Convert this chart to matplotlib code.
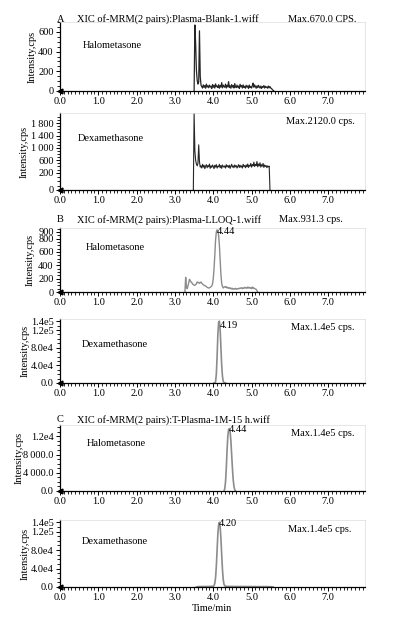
import numpy as np
import matplotlib
matplotlib.use("Agg")
import matplotlib.pyplot as plt
from matplotlib.ticker import FixedLocator, MultipleLocator

plt.rcParams["font.family"] = ["Liberation Serif", "DejaVu Serif"]
plt.rcParams["font.size"] = 7.5

FIG_W, FIG_H = 396, 620
STEP = 0.02  # sampling interval of the noisy traces, min
TS = "\u2009"  # thin space used as thousands separator in the original

# ---- A: blank plasma (noisy traces, one value every 0.02 min) ----
blank_halo_start = 3.50
blank_halo = [0, 670, 480, 210, 110, 70, 90, 610, 150, 60,
              45, 30, 62, 38, 55, 28, 70, 40, 52, 33,
              60, 42, 48, 25, 66, 38, 58, 30, 72, 44,
              50, 35, 64, 28, 55, 40, 85, 32, 60, 45,
              38, 70, 30, 58, 42, 95, 36, 52, 28, 65,
              40, 55, 30, 75, 45, 34, 60, 38, 50, 26,
              68, 42, 55, 30, 62, 36, 48, 28, 58, 40,
              52, 25, 60, 35, 46, 30, 55, 80, 38, 62,
              45, 28, 52, 34, 58, 40, 30, 50, 26, 45,
              38, 55, 30, 48, 35, 42, 28, 50, 32, 45,
              30, 25, 15, 8, 0]

blank_dexa_start = 3.48
blank_dexa = [0, 2120, 900, 600, 480, 420, 500, 1100, 550, 380,
              420, 350, 470, 380, 440, 330, 410, 460, 360, 430,
              390, 480, 340, 420, 370, 450, 400, 330, 440, 380,
              460, 350, 410, 390, 470, 360, 430, 340, 450, 400,
              380, 420, 350, 460, 390, 430, 370, 440, 340, 410,
              470, 380, 420, 360, 450, 390, 430, 350, 400, 460,
              370, 440, 380, 420, 350, 470, 400, 430, 360, 450,
              390, 480, 370, 440, 410, 500, 380, 460, 420, 540,
              400, 470, 430, 560, 390, 480, 420, 520, 380, 460,
              410, 500, 370, 450, 400, 430, 360, 420, 390, 410,
              0]

# ---- B: LLOQ plasma ----
lloq_halo_start = 3.26
lloq_halo = [0, 220, 70, 50, 90, 140, 190, 170, 150, 140,
             120, 110, 105, 100, 110, 125, 150, 140, 145, 130,
             140, 150, 130, 120, 110, 100, 95, 90, 80, 70, 65,
             60, 62, 70, 80, 90, 120, 200, 350, 550, 780,
             900, 931, 910, 850, 700, 480, 260, 130, 80, 60,
             75, 80, 70, 80, 60, 70, 55, 65, 50, 60,
             45, 55, 40, 50, 45, 55, 40, 50, 45, 55,
             50, 60, 55, 65, 50, 60, 55, 70, 60, 65,
             55, 75, 60, 70, 55, 65, 50, 75, 55, 60,
             50, 45, 40, 20, 0]

lloq_dexa_t = [4.02, 4.04, 4.06, 4.08, 4.10, 4.12, 4.14, 4.16, 4.18,
               4.20, 4.22, 4.24, 4.26, 4.28, 4.30, 4.32]
lloq_dexa = [0, 0, 3000, 20000, 60000, 110000, 138000, 140000, 120000,
             80000, 40000, 15000, 4000, 1000, 0, 0]

# ---- C: treated plasma, 1M-15 h ----
treat_halo_t = [4.28, 4.30, 4.32, 4.34, 4.36, 4.38, 4.40, 4.42, 4.44,
                4.46, 4.48, 4.50, 4.52, 4.54, 4.56, 4.58]
treat_halo = [0, 500, 2000, 5000, 9000, 12000, 13500, 13700, 13000,
              11000, 8000, 5000, 2500, 1000, 300, 0]

treat_dexa_t = [3.56, 3.60, 3.70, 3.80, 3.90, 4.00, 4.02, 4.04, 4.06,
                4.08, 4.10, 4.12, 4.14, 4.16, 4.18, 4.20, 4.22, 4.24,
                4.26, 4.28, 4.30, 4.32, 4.40, 4.60, 4.80, 5.00, 5.20,
                5.40, 5.50, 5.56]
treat_dexa = [0, 800, 1000, 1000, 1200, 1500, 3000, 8000, 20000,
              45000, 80000, 115000, 135000, 140000, 130000, 105000, 70000, 38000,
              16000, 6000, 2500, 1500, 1200, 1000, 1000, 900, 800,
              800, 700, 0]


def grid(start, values):
    return start + STEP * np.arange(len(values))


# the blank Dexamethasone axis of the original is stretched below 200 cps
def _stretch_fwd(y):
    y = np.asarray(y, dtype=float)
    return np.where(y < 200, y * 2.8, 560 + (y - 200))


def _stretch_inv(v):
    v = np.asarray(v, dtype=float)
    return np.where(v < 560, v / 2.8, 200 + (v - 560))


def fig_text(fig, x, y, s, **kw):
    # place text by pixel position in the 396x620 figure
    fig.text(x / FIG_W, 1 - y / FIG_H, s, va="center", **kw)


def make_axes(fig, top, bottom):
    left, right = 60, 365
    ax = fig.add_axes([left / FIG_W, 1 - bottom / FIG_H,
                       (right - left) / FIG_W, (bottom - top) / FIG_H])
    ax.set_xlim(0, 7.96)
    ax.xaxis.set_major_locator(FixedLocator(np.arange(0, 8)))
    ax.set_xticklabels([f"{v:.1f}" for v in range(8)])
    ax.xaxis.set_minor_locator(MultipleLocator(0.1))
    for side in ("top", "right"):
        ax.spines[side].set_color("#dcdcdc")
        ax.spines[side].set_linewidth(0.5)
    for side in ("left", "bottom"):
        ax.spines[side].set_linewidth(0.9)
    ax.tick_params(which="major", direction="out", length=3, width=0.7, pad=1.5, labelsize=7.5)
    ax.tick_params(which="minor", direction="out", length=2, width=0.6)
    ax.plot([0], [0], marker="<", ms=3.5, color="black", transform=ax.transAxes, clip_on=False)
    return ax


def set_y(ax, ylim, ticks, labels, minor, label_center):
    ax.set_ylim(*ylim)
    ax.yaxis.set_major_locator(FixedLocator(ticks))
    ax.set_yticklabels(labels)
    if minor is not None:
        ax.yaxis.set_minor_locator(MultipleLocator(minor))
    ax.set_ylabel("Intensity,cps", fontsize=7.5, labelpad=0)
    ax.yaxis.set_label_coords((label_center + 5 - 60) / 305, 0.5)


def main():
    fig = plt.figure(figsize=(FIG_W / 100, FIG_H / 100), dpi=100)
    dark = "#262626"
    grey = "#8c8c8c"

    # A - blank
    ax1 = make_axes(fig, 22, 91)
    ax1.plot(grid(blank_halo_start, blank_halo), blank_halo, color=dark, lw=0.9)
    set_y(ax1, (0, 700), [0, 200, 400, 600], ["0", "200", "400", "600"], 50, 31.5)

    ax2 = make_axes(fig, 113, 190)
    ax2.set_yscale("function", functions=(_stretch_fwd, _stretch_inv))
    ax2.plot(grid(blank_dexa_start, blank_dexa), blank_dexa, color=dark, lw=0.8)
    set_y(ax2, (0, 2130), [0, 200, 600, 1000, 1400, 1800],
          ["0", "200", "600", f"1{TS}000", f"1{TS}400", f"1{TS}800"], None, 24)
    ax2.yaxis.set_minor_locator(FixedLocator(list(range(50, 200, 50)) + list(range(300, 2100, 100))))

    # B - LLOQ
    ax3 = make_axes(fig, 228, 292)
    ax3.plot(grid(lloq_halo_start, lloq_halo), lloq_halo, color=grey, lw=1.0)
    set_y(ax3, (0, 960), [0, 200, 400, 600, 800, 900],
          ["0", "200", "400", "600", "800", "900"], 50, 30)

    ax4 = make_axes(fig, 319, 383)
    ax4.plot(lloq_dexa_t, lloq_dexa, color=grey, lw=1.2)
    set_y(ax4, (0, 1.45e5), [0, 4e4, 8e4, 1.2e5, 1.4e5],
          ["0.0", "4.0e4", "8.0e4", "1.2e5", "1.4e5"], 1e4, 25)

    # C - treated
    ax5 = make_axes(fig, 425, 491)
    ax5.plot(treat_halo_t, treat_halo, color=grey, lw=1.2)
    set_y(ax5, (0, 14500), [0, 4000, 8000, 12000],
          ["0.0", f"4{TS}000.0", f"8{TS}000.0", "1.2e4"], 1000, 18.5)

    ax6 = make_axes(fig, 520, 587)
    ax6.plot(treat_dexa_t, treat_dexa, color=grey, lw=1.2)
    set_y(ax6, (0, 1.45e5), [0, 4e4, 8e4, 1.2e5, 1.4e5],
          ["0.0", "4.0e4", "8.0e4", "1.2e5", "1.4e5"], 1e4, 25)
    ax6.set_xlabel("Time/min", fontsize=7.5, labelpad=1)

    # titles, compound names, max intensities, peak retention times
    fig_text(fig, 57, 19, "A")
    fig_text(fig, 77, 19, "XIC of-MRM(2 pairs):Plasma-Blank-1.wiff")
    fig_text(fig, 288, 19, "Max.670.0 CPS.")
    fig_text(fig, 83, 45, "Halometasone")
    fig_text(fig, 78, 139, "Dexamethasone")
    fig_text(fig, 286, 122, "Max.2120.0 cps.")

    fig_text(fig, 57, 220, "B")
    fig_text(fig, 77, 220, "XIC of-MRM(2 pairs):Plasma-LLOQ-1.wiff")
    fig_text(fig, 279, 220, "Max.931.3 cps.")
    fig_text(fig, 86, 247, "Halometasone")
    fig_text(fig, 217, 231, "4.44")
    fig_text(fig, 82, 345, "Dexamethasone")
    fig_text(fig, 220, 325, "4.19")
    fig_text(fig, 291, 328, "Max.1.4e5 cps.")

    fig_text(fig, 57, 420, "C")
    fig_text(fig, 77, 420, "XIC of-MRM(2 pairs):T-Plasma-1M-15 h.wiff")
    fig_text(fig, 87, 443, "Halometasone")
    fig_text(fig, 229, 430, "4.44")
    fig_text(fig, 291, 434, "Max.1.4e5 cps.")
    fig_text(fig, 82, 541, "Dexamethasone")
    fig_text(fig, 219, 523, "4.20")
    fig_text(fig, 288, 529, "Max.1.4e5 cps.")

    fig.savefig("out.png", dpi=100)


if __name__ == "__main__":
    main()
